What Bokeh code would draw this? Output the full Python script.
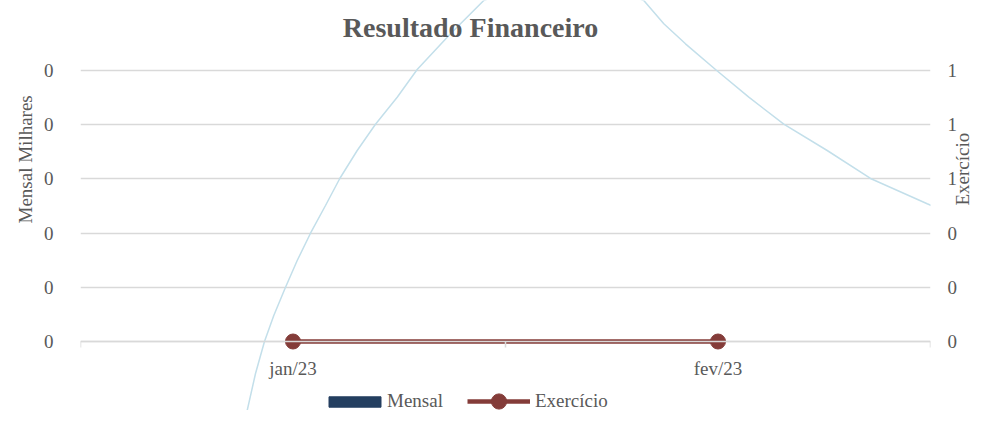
import math
from bokeh.plotting import figure
from bokeh.models import (Range1d, LinearAxis, FixedTicker, NumeralTickFormatter,
                          Legend, LegendItem, Label, Grid, Title)
from bokeh.embed import file_html
from bokeh.resources import INLINE

# ---- data ----
categorias = ["jan/23", "fev/23"]
mensal = [0, 0]
exercicio = [0, 0]
left_ticks = [0, 0.05, 0.1, 0.15, 0.2, 0.25]
right_ticks = [0, 0.2, 0.4, 0.6, 0.8, 1.0]
# light blue curve (right-axis units; x in category units)
curva_x = [0.3828, 0.3906, 0.4118, 0.4329, 0.4548, 0.4824, 0.5099, 0.5412, 0.5765,
           0.6101, 0.6511, 0.6941, 0.7452, 0.7922, 0.8706, 0.9489, 1.1365,
           1.3254, 1.3725, 1.4235, 1.4941, 1.5725, 1.6548, 1.7569, 1.8588, 1.9922,
           2.1254, 2.1694]
curva_y = [-0.3137, -0.2657, -0.1181, 0.0, 0.0959, 0.2004, 0.2989, 0.3996, 0.5018,
           0.6015, 0.7048, 0.8018, 0.9015, 1.0037, 1.1354, 1.2583, 1.3690,
           1.2583, 1.1723, 1.0985, 1.0037, 0.9015, 0.8018, 0.7048, 0.6015, 0.5081,
           0.4218, 0.3974]

cat_pos = [i + 0.5 for i in range(len(categorias))]
bounds = [float(i) for i in range(len(categorias) + 1)]

FONT = "Liberation Serif"
TXT = "#595959"
GRID = "#d9d9d9"
RED = "#843c39"
NAVY = "#243f60"
CURVE = "#c3dfea"

W, H = 986, 410
r_start, r_end = -0.2546, 1.2583
scale = 0.25

p = figure(width=W, height=H, output_backend="svg", toolbar_location=None,
           x_range=Range1d(0, 2), y_range=Range1d(r_start * scale, r_end * scale),
           x_axis_location=None, y_axis_location=None,
           min_border_left=80, min_border_right=56, min_border_top=0, min_border_bottom=0)
p.grid.visible = False
p.extra_y_ranges = {"right": Range1d(r_start, r_end)}
p.outline_line_color = None
p.background_fill_color = "white"
p.border_fill_color = "white"

grid = Grid(dimension=1, ticker=FixedTicker(ticks=left_ticks), grid_line_color=GRID,
            grid_line_width=1.5)
p.add_layout(grid)

# left axis
yl = LinearAxis(ticker=FixedTicker(ticks=left_ticks), formatter=NumeralTickFormatter(format="0"),
                axis_line_color=None, major_tick_line_color=None, minor_tick_line_color=None,
                major_tick_out=0, major_tick_in=0, minor_tick_out=0, minor_tick_in=0,
                major_label_standoff=27, major_label_text_font=FONT,
                major_label_text_font_size="19px", major_label_text_color=TXT)
p.add_layout(yl, "left")
p.add_layout(Title(text="Mensal  Milhares", align="right", offset=90,
                   text_font=FONT, text_font_size="19px", text_font_style="normal",
                   text_color=TXT), "left")

# right axis
yr = LinearAxis(y_range_name="right", ticker=FixedTicker(ticks=right_ticks),
                formatter=NumeralTickFormatter(format="0"),
                axis_line_color=None, major_tick_line_color=None, minor_tick_line_color=None,
                major_tick_out=0, major_tick_in=0, minor_tick_out=0, minor_tick_in=0,
                major_label_standoff=17, major_label_text_font=FONT,
                major_label_text_font_size="19px", major_label_text_color=TXT,
                axis_label="Exercício", axis_label_text_font=FONT,
                axis_label_text_font_size="19px", axis_label_text_color=TXT,
                axis_label_text_font_style="normal", axis_label_standoff=2,
                axis_label_orientation=math.pi / 2)
p.add_layout(yr, "right")

# category axis, fixed at zero
xa = LinearAxis(ticker=FixedTicker(ticks=cat_pos, minor_ticks=bounds),
                major_label_overrides={cp: c for cp, c in zip(cat_pos, categorias)},
                fixed_location=0,
                axis_line_color=GRID, axis_line_width=1.5,
                major_tick_line_color=None, major_tick_out=0, major_tick_in=0,
                minor_tick_line_color=GRID, minor_tick_line_width=1.5,
                minor_tick_out=6, minor_tick_in=0,
                major_label_standoff=10, major_label_text_font=FONT,
                major_label_text_font_size="19px", major_label_text_color=TXT)
p.add_layout(xa, "below")

# curve
p.line(curva_x, curva_y, y_range_name="right", line_color=CURVE, line_width=1.5)

# series
bars = p.vbar(x=cat_pos, top=mensal, width=0.4, color=NAVY)
ln = p.line(cat_pos, exercicio, y_range_name="right", line_color=RED, line_width=4.5)
mk = p.scatter(cat_pos, exercicio, y_range_name="right", size=15, color=RED)

leg1 = Legend(items=[LegendItem(label="Mensal", renderers=[bars])],
              location=(242, -2), orientation="horizontal",
              glyph_width=65, glyph_height=13, label_height=13, label_standoff=0,
              padding=0, margin=0, spacing=0,
              label_text_font=FONT, label_text_font_size="19px", label_text_color=TXT,
              background_fill_alpha=0, border_line_alpha=0)
leg2 = Legend(items=[LegendItem(label="Exercício", renderers=[ln, mk])],
              location=(387, -10), orientation="horizontal",
              glyph_width=63, glyph_height=38, label_height=38, label_standoff=5,
              padding=0, margin=0, spacing=0,
              label_text_font=FONT, label_text_font_size="19px", label_text_color=TXT,
              background_fill_alpha=0, border_line_alpha=0)
p.add_layout(leg1)
p.add_layout(leg2)

p.add_layout(Label(x=390, y=383, x_units="screen", y_units="screen",
                   text="Resultado Financeiro", text_align="center",
                   text_baseline="alphabetic", text_font=FONT, text_font_size="28px",
                   text_font_style="bold", text_color=TXT))

open("out.html", "w").write(file_html(p, INLINE))
